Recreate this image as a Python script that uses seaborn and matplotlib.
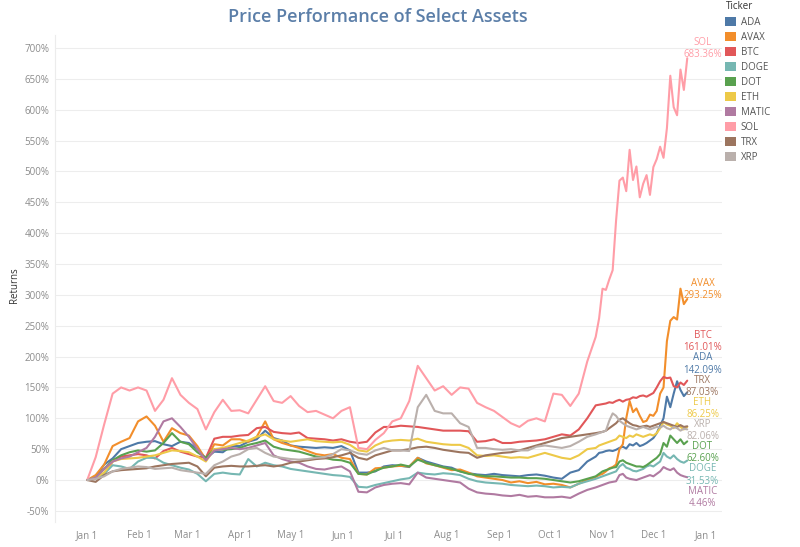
import numpy as np
import pandas as pd
import matplotlib
matplotlib.use("Agg")
import matplotlib.pyplot as plt
import matplotlib.dates as mdates
from matplotlib.patches import Patch
import seaborn as sns

sns.set_theme(style="white")
plt.rcParams["font.family"] = ["Open Sans", "DejaVu Sans"]

# ---------------- data ----------------
tickers = ["ADA", "AVAX", "BTC", "DOGE", "DOT", "ETH", "MATIC", "SOL", "TRX", "XRP"]
colors = ["#4E79A7", "#F28E2B", "#E15759", "#76B7B2", "#59A14F",
          "#EDC948", "#B07AA1", "#FF9DA7", "#9C755F", "#BAB0AC"]
start_date = "2023-01-01"
day_offsets = list(range(0, 301, 5)) + list(range(302, 355, 2))

ada = [0, 5, 25, 35, 50, 55, 60, 62, 63, 58,
       55, 62, 60, 50, 35, 46, 45, 55, 55, 62,
       66, 80, 68, 64, 56, 54, 53, 52, 53, 52,
       55, 48, 12, 12, 14, 22, 24, 23, 21, 36,
       30, 26, 22, 20, 14, 11, 9, 8, 10, 8,
       7, 6, 8, 9, 7, 4, 2, 12, 16, 30,
       38,
       44, 45, 47, 48, 47, 49, 52, 54, 51, 58, 56, 60, 55, 57, 60, 64, 68, 76, 88,
       100, 135, 118, 140, 160, 146, 136, 142.09]
avax = [0, 8, 25, 55, 62, 68, 95, 103, 88, 62,
        84, 76, 72, 55, 33, 58, 56, 66, 66, 62,
        70, 95, 66, 60, 56, 52, 47, 42, 40, 42,
        36, 34, 10, 9, 19, 20, 22, 23, 22, 36,
        27, 24, 20, 16, 17, 12, 6, 4, 2, 0,
        -4, -2, -5, -3, -7, -6, -8, -12, -6, 0,
        5,
        8, 10, 14, 19, 21, 25, 50, 58, 100, 128, 110, 116, 104, 94, 96, 106, 104, 112, 140,
        150, 225, 258, 264, 260, 310, 285, 293.25]
btc = [0, 3, 10, 30, 38, 40, 42, 40, 35, 47,
       52, 46, 42, 38, 36, 67, 70, 70, 72, 73,
       84, 86, 78, 76, 75, 77, 68, 67, 66, 64,
       66, 62, 60, 62, 77, 86, 86, 88, 87, 86,
       84, 82, 80, 80, 80, 79, 62, 63, 66, 60,
       60, 62, 63, 64, 66, 70, 74, 72, 82, 100,
       121,
       122, 123, 124, 126, 125, 128, 130, 127, 130, 131, 134, 133, 136, 137, 135, 138, 141, 150, 160,
       167, 165, 166, 152, 150, 158, 154, 161.01]
doge = [0, 2, 10, 24, 22, 18, 30, 36, 36, 28,
        24, 20, 17, 10, -2, 10, 12, 10, 9, 34,
        22, 28, 24, 22, 18, 16, 14, 12, 10, 8,
        7, 5, -11, -12, -8, -5, -2, 1, 3, 12,
        10, 9, 11, 10, 8, 2, -2, -4, -5, -6,
        -8, -9, -10, -9, -10, -12, -11, -12, -6, -2,
        2,
        4, 6, 8, 10, 12, 14, 22, 26, 20, 18, 15, 14, 16, 18, 22, 24, 22, 26, 30,
        44, 38, 35, 40, 34, 30, 28, 31.53]
dot = [0, 4, 18, 32, 40, 45, 48, 46, 48, 60,
       76, 62, 58, 45, 36, 50, 49, 50, 52, 57,
       60, 64, 54, 50, 48, 46, 42, 38, 36, 33,
       32, 28, 10, 9, 15, 20, 22, 25, 22, 33,
       28, 24, 21, 18, 14, 10, 8, 6, 6, 5,
       4, 4, 3, 3, 2, 0, -2, -4, -2, 2,
       6,
       10, 14, 16, 18, 20, 21, 30, 32, 28, 26, 24, 22, 22, 21, 24, 28, 32, 36, 42,
       60, 54, 72, 66, 60, 66, 58, 62.60]
eth = [0, 4, 12, 30, 34, 35, 36, 38, 40, 44,
       48, 47, 45, 38, 30, 50, 52, 56, 60, 64,
       70, 74, 66, 64, 62, 64, 66, 63, 62, 61,
       62, 57, 48, 46, 56, 62, 64, 65, 64, 67,
       62, 60, 58, 57, 57, 52, 40, 39, 40, 38,
       36, 37, 36, 40, 44, 40, 36, 34, 40, 50,
       52,
       56, 58, 60, 62, 64, 66, 72, 70, 68, 72, 70, 74, 72, 70, 72, 74, 72, 76, 84,
       94, 90, 88, 84, 92, 86, 82, 86.25]
matic = [0, 4, 18, 30, 35, 38, 45, 52, 70, 95,
         100, 86, 70, 50, 32, 48, 50, 52, 50, 52,
         56, 60, 40, 34, 30, 28, 22, 18, 17, 20,
         22, 14, -19, -20, -12, -8, -6, -5, -7, 12,
         4, 2, 0, -2, -4, -14, -20, -22, -23, -25,
         -26, -24, -27, -26, -28, -28, -27, -29, -22, -16,
         -12,
         -10, -8, -6, -4, -3, -2, 8, 10, 4, 2, 1, 0, 2, 4, 6, 8, 6, 10, 14,
         21, 18, 16, 19, 12, 8, 6, 4.46]
sol = [0, 37, 90, 140, 150, 145, 150, 145, 112, 130,
       165, 138, 125, 115, 82, 110, 130, 112, 113, 108,
       130, 152, 128, 125, 136, 120, 110, 112, 106, 100,
       112, 118, 52, 50, 65, 76, 95, 100, 128, 185,
       165, 145, 152, 138, 150, 148, 125, 118, 112, 102,
       92, 86, 96, 100, 95, 140, 138, 120, 140, 192,
       232,
       262, 310, 308, 325, 340, 420, 485, 490, 468, 535, 486, 508, 458, 480, 494, 462, 507, 520, 540,
       522, 570, 655, 604, 591, 665, 632, 683.36]
trx = [0, -3, 8, 14, 16, 17, 18, 19, 22, 24,
       26, 27, 28, 22, 6, 20, 22, 23, 22, 22,
       23, 24, 22, 24, 28, 30, 32, 34, 35, 37,
       40, 44, 36, 33, 40, 44, 48, 48, 50, 53,
       54, 52, 49, 47, 45, 44, 36, 40, 42, 44,
       45, 48, 52, 56, 60, 64, 68, 70, 72, 74,
       76,
       77, 78, 80, 84, 88, 92, 98, 100, 96, 92, 89, 88, 86, 87, 88, 86, 88, 90, 92,
       94, 92, 90, 88, 86, 89, 86, 87.03]
xrp = [0, 2, 6, 14, 18, 20, 22, 21, 18, 19,
       20, 16, 14, 12, 10, 24, 30, 38, 42, 50,
       52, 44, 38, 36, 34, 33, 34, 36, 37, 42,
       50, 48, 43, 41, 48, 52, 48, 48, 47, 118,
       138, 112, 108, 108, 92, 86, 52, 52, 50, 49,
       50, 48, 48, 54, 56, 54, 52, 55, 62, 70,
       74,
       76, 78, 80, 96, 108, 104, 96, 92, 88, 86, 84, 82, 84, 86, 84, 82, 84, 86, 85,
       88, 84, 82, 86, 84, 80, 83, 82.06]

series = dict(zip(tickers, [ada, avax, btc, doge, dot, eth, matic, sol, trx, xrp]))

dates = pd.Timestamp(start_date) + pd.to_timedelta(day_offsets, unit="D")
df = pd.concat([pd.DataFrame({"Date": dates, "Return": v, "Ticker": t})
                for t, v in series.items()], ignore_index=True)

# ---------------- figure ----------------
W, H = 800, 547
fig = plt.figure(figsize=(W / 100, H / 100), dpi=100)
ax = fig.add_axes([55 / W, 1 - 522 / H, (722 - 55) / W, (522 - 35) / H])

sns.lineplot(data=df, x="Date", y="Return", hue="Ticker", hue_order=tickers,
             palette=colors, linewidth=1.5, legend=False, ax=ax)

ax.set_xlim(pd.Timestamp(start_date) - pd.Timedelta(days=19),
            pd.Timestamp(start_date) + pd.Timedelta(days=374.5))
ax.set_ylim(-68, 721)
ax.set_yticks(np.arange(-50, 701, 50))
ax.set_yticklabels([f"{v:.0f}%" for v in np.arange(-50, 701, 50)])
ax.xaxis.set_major_locator(mdates.MonthLocator())
ax.xaxis.set_major_formatter(mdates.DateFormatter("%b 1"))

ax.grid(axis="y", color="#ededed", linewidth=0.8)
ax.grid(axis="x", visible=False)
for s in ["top", "right", "bottom"]:
    ax.spines[s].set_visible(False)
ax.spines["left"].set_color("#ececec")
ax.spines["left"].set_linewidth(0.8)
ax.tick_params(axis="both", labelsize=7, colors="#8c8c8c", length=0)
ax.tick_params(axis="y", pad=4)
ax.tick_params(axis="x", pad=6)
ax.set_xlabel("")
ax.set_ylabel("")
fig.text(15 / W, 1 - 285 / H, "Returns", rotation=90, ha="center", va="center",
         fontsize=7, color="#333333")

# ---------------- end labels with simple repel ----------------
finals = {t: v[-1] for t, v in series.items()}
order = sorted(tickers, key=lambda t: -finals[t])
offset, gap = 16, 36
targets = [finals[t] + offset for t in order]
groups = [[i] for i in range(len(order))]


def group_positions(groups):
    pos = {}
    for g in groups:
        c = np.mean([targets[i] for i in g])
        n = len(g)
        for k, i in enumerate(g):
            pos[i] = c + ((n - 1) / 2 - k) * gap
    return pos


changed = True
while changed:
    changed = False
    pos = group_positions(groups)
    for j in range(len(groups) - 1):
        a, b = groups[j][-1], groups[j + 1][0]
        if pos[a] - pos[b] < gap - 1e-9:
            groups[j] = groups[j] + groups[j + 1]
            del groups[j + 1]
            changed = True
            break
pos = group_positions(groups)
label_x = dates[-1] + pd.Timedelta(days=9)
cmap = dict(zip(tickers, colors))
for i, t in enumerate(order):
    ax.text(label_x, pos[i], f"{t}\n{finals[t]:.2f}%", ha="center", va="center",
            fontsize=7, color=cmap[t], linespacing=1.15, clip_on=False)

# ---------------- title & legend ----------------
fig.text(378 / W, 1 - 17 / H, "Price Performance of Select Assets", ha="center",
         va="center", fontsize=13, fontweight="semibold", color="#5B7EA8")

handles = [Patch(facecolor=c, edgecolor="none") for c in colors]
leg = fig.legend(handles, tickers, loc="upper left", bbox_to_anchor=(724 / W, 1.0),
                 frameon=False, fontsize=7, title="Ticker", title_fontsize=7,
                 handlelength=1.05, handleheight=1.05, handletextpad=0.5,
                 labelspacing=0.42, borderaxespad=0, borderpad=0.15, alignment="left")
for txt in leg.get_texts():
    txt.set_color("#555555")
leg.get_title().set_color("#333333")

fig.savefig("out.png", dpi=100)
